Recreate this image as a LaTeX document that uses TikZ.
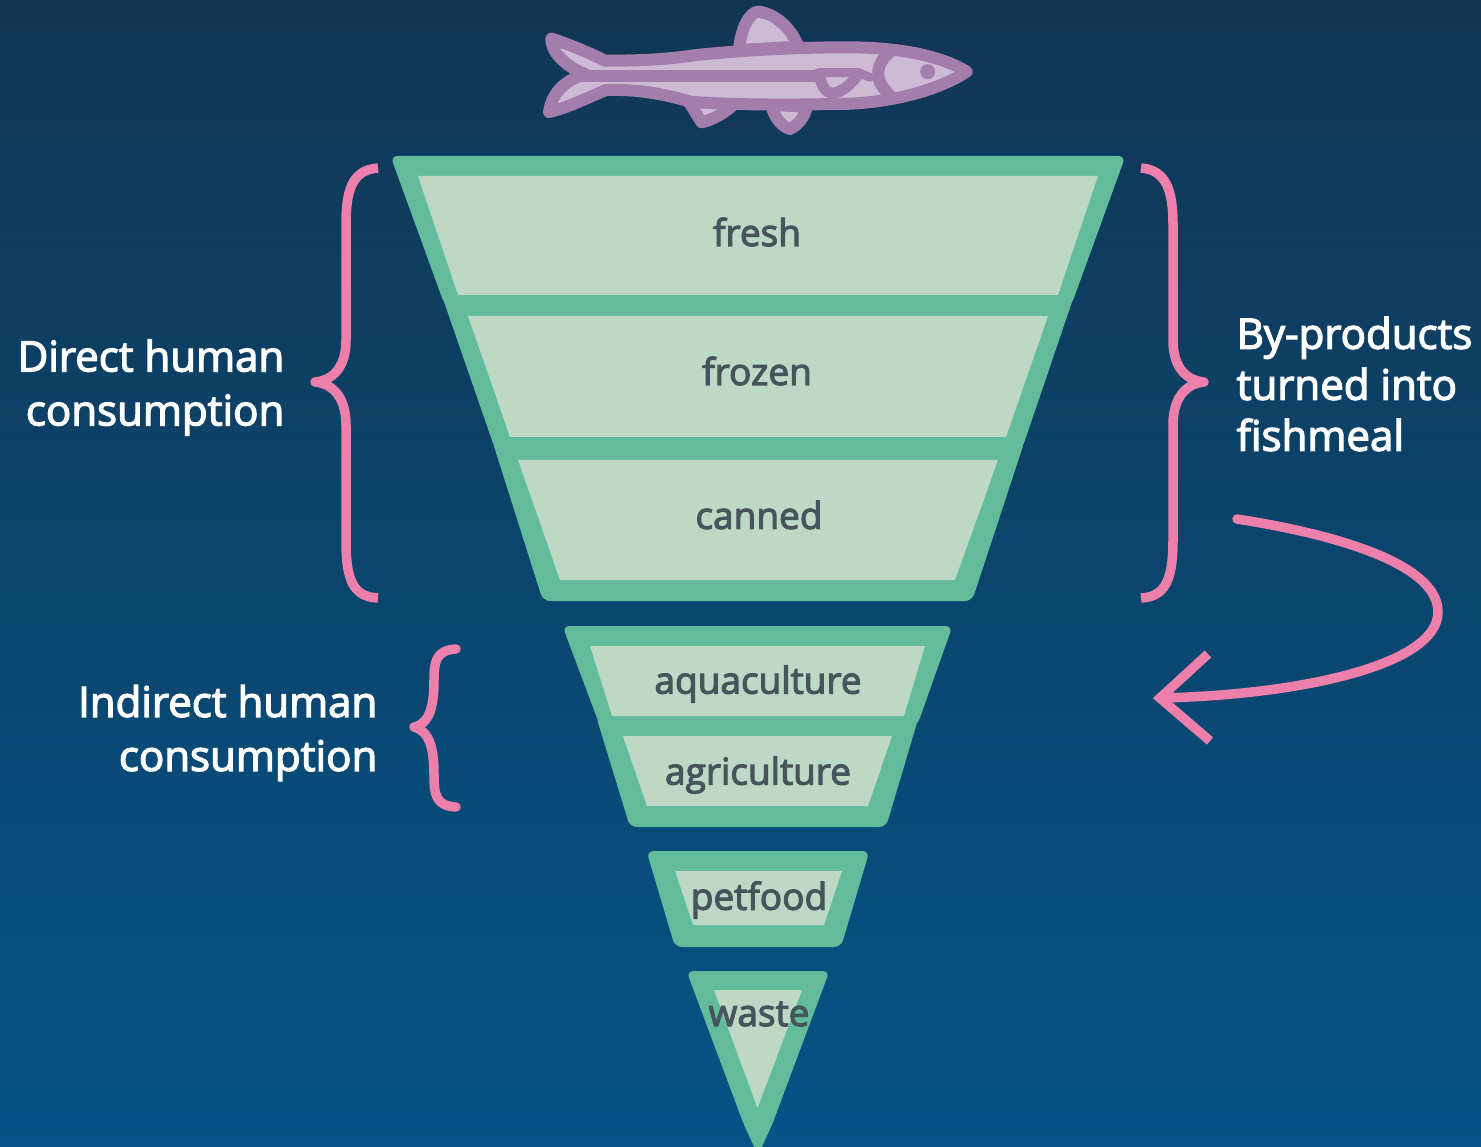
\documentclass[tikz,border=0pt]{standalone}
\usepackage{fontspec}
\setmainfont{Open Sans}
\newfontfamily\lblfont[FakeBold=3]{Open Sans}
\usetikzlibrary{calc}
\definecolor{bgtop}{RGB}{17,54,84}
\definecolor{bgbot}{RGB}{5,84,135}
\definecolor{funnelgreen}{RGB}{98,188,156}
\definecolor{funnellight}{RGB}{189,217,198}
\definecolor{tier}{RGB}{70,84,92}
\definecolor{pinkline}{RGB}{236,128,170}
\definecolor{fishdark}{RGB}{163,125,172}
\definecolor{fishlight}{RGB}{205,187,214}
\tikzset{
  outer/.style={fill=funnelgreen,rounded corners=7pt},
  inner/.style={fill=funnellight},
  tiertext/.style={text=tier,font=\lblfont\fontsize{37}{44}\selectfont,inner sep=0pt},
  sidetext/.style={text=white,font=\lblfont\fontsize{42}{54}\selectfont,inner sep=0pt},
  brace/.style={draw=pinkline,line width=9.5pt,line cap=round,line join=round},
  fish/.style={draw=fishdark,line width=12pt,line join=round,line cap=round,fill=fishlight},
  fishline/.style={draw=fishdark,line join=round,line cap=round},
}
\begin{document}
\begin{tikzpicture}[x=1pt,y=-1pt]
\useasboundingbox (0,0) rectangle (1481,1147);
\shade[top color=bgtop,bottom color=bgbot] (0,0) rectangle (1481,1147);
% fish
\begin{scope}[shift={(530,0)},x=0.3333pt,y=-0.3333pt]
  \path[fish] (627,150) .. controls (632,85) and (660,35) .. (685,35) .. controls (735,40) and (785,85) .. (805,140) -- cycle;
  \path[fish] (470,295) -- (515,367) .. controls (550,360) and (590,335) .. (615,310) -- cycle;
  \path[fish] (725,315) .. controls (730,350) and (755,380) .. (780,387) .. controls (805,375) and (825,350) .. (830,320) -- cycle;
  \path[fish] (1310,215) .. controls (1230,165) and (1100,142) .. (950,142) .. controls (800,142) and (650,150) .. (500,165)
     .. controls (400,180) and (320,182) .. (225,182) .. controls (170,155) and (110,130) .. (64,116)
     .. controls (62,150) and (100,197) .. (165,222) .. controls (95,245) and (65,285) .. (57,336)
     .. controls (110,325) and (180,290) .. (228,270) .. controls (300,268) and (380,275) .. (480,305)
     .. controls (600,315) and (800,315) .. (900,312) .. controls (1060,315) and (1220,275) .. (1310,215) -- cycle;
  \path[fishline,line width=12pt] (160,228) -- (860,228);
  \path[fishline,line width=9pt] (865,218) -- (985,218) -- (1020,232);
  \path[fishline,line width=11pt] (868,225) .. controls (875,262) and (890,280) .. (910,280) .. controls (935,275) and (965,255) .. (985,222);
  \path[fishline,line width=12pt] (1080,155) .. controls (1040,190) and (1030,235) .. (1070,275) -- (1085,295);
  \node[circle,fill=fishdark,minimum size=15pt,inner sep=0pt] (eye) at (1193,215) {};
\end{scope}
% funnel upper
\path[outer] (390.5,156) -- (1125.5,156) -- (1071,306) -- (445,306) -- cycle;
\path[outer] (442,296) -- (1074,296) -- (1022,449) -- (495,449) -- cycle;
\path[outer] (492,440) -- (1025,440) -- (972,601) -- (543,601) -- cycle;
\path[inner] (418,176) -- (1098,176) -- (1058,295) -- (458,295) -- cycle;
\path[inner] (468,316) -- (1048,316) -- (1006,437) -- (510,437) -- cycle;
\path[inner] (518,460) -- (998,460) -- (955,580) -- (560,580) -- cycle;
% funnel middle
\path[outer] (562.5,626) -- (952.5,626) -- (917,726) -- (600,726) -- cycle;
\path[outer] (596,716) -- (919,716) -- (886,827) -- (630,827) -- cycle;
\path[inner] (590,646) -- (925,646) -- (904,716) -- (612,716) -- cycle;
\path[inner] (623,736) -- (892,736) -- (868,806) -- (647,806) -- cycle;
% petfood
\path[outer] (646.5,851) -- (869.5,851) -- (841,947) -- (675,947) -- cycle;
\path[inner] (675,871) -- (842,871) -- (824,925) -- (693,925) -- cycle;
% waste
\path[outer] (686.5,971) -- (829.5,971) -- (772,1125) -- (758,1155) -- (744,1125) -- cycle;
\path[inner] (714,990) -- (802,990) -- (757.5,1108) -- cycle;
% tier labels
\node[tiertext] (fresh) at (757,232) {fresh};
\node[tiertext] (frozen) at (757,371) {frozen};
\node[tiertext] (canned) at (759,515) {canned};
\node[tiertext] (aqua) at (758,684) {aquaculture};
\node[tiertext] (agri) at (758,775) {agriculture};
\node[tiertext] (pet) at (759,900) {petfood};
\node[tiertext] (waste) at (759,1014) {waste};
% side labels
\node[sidetext,align=right,anchor=east] (direct) at (284.5,387.5) {Direct human\\consumption};
\node[sidetext,align=right,anchor=east] (indirect) at (377.5,733) {Indirect human\\consumption};
\node[sidetext,align=left,anchor=west,font=\lblfont\fontsize{42}{51}\selectfont] (byprod) at (1236.5,384) {By-products\\turned into\\fishmeal};
% braces
\path[brace,line cap=butt] (378,168) .. controls (352,170) and (346,190) .. (346,225) -- (346,340) .. controls (346,365) and (335,380) .. (315,382) .. controls (335,384) and (346,400) .. (346,425) -- (346,540) .. controls (346,578) and (352,597) .. (378,598);
\path[brace,line cap=butt] (1141,168) .. controls (1166,170) and (1173,190) .. (1173,225) -- (1173,340) .. controls (1173,365) and (1184,380) .. (1204,382) .. controls (1184,384) and (1173,400) .. (1173,425) -- (1173,540) .. controls (1173,578) and (1166,597) .. (1141,598);
\path[brace] (456,649) .. controls (436,650) and (434,662) .. (434,680) .. controls (434,705) and (430,724) .. (414,727) .. controls (430,731) and (434,750) .. (434,775) .. controls (434,795) and (436,806) .. (456,807);
% arrow
\coordinate (astart) at (1237,519);
\coordinate (atip) at (1160,698);
\coordinate (aup) at (1208,654);
\coordinate (adown) at (1210,741);
\draw[brace] (astart) .. controls (1340,535) and (1438,565) .. (1438,612) .. controls (1438,665) and (1300,695) .. (atip);
\draw[brace,line cap=butt,miter limit=10,line join=miter] (aup) -- (atip) -- (adown);
\end{tikzpicture}
\end{document}
